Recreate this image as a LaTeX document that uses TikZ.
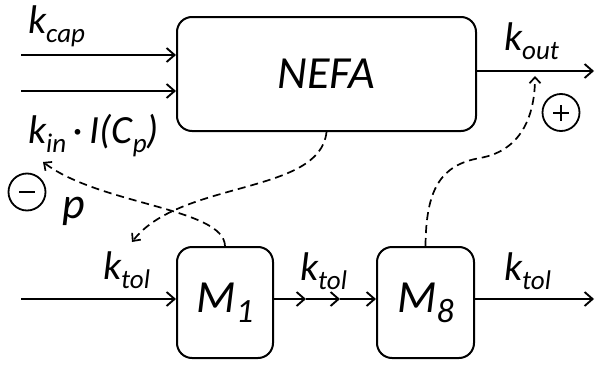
\documentclass[tikz,border=0pt]{standalone}
\usepackage{fontspec}
\setmainfont{Carlito}
\usetikzlibrary{arrows.meta}
\newcommand{\mylbl}[2]{{\fontsize{40}{40}\selectfont #1}\raisebox{-9pt}{\fontsize{27}{27}\selectfont #2}}
\newcommand{\mybig}[1]{{\fontsize{40}{40}\selectfont #1}}
\begin{document}
\begin{tikzpicture}[x=1pt,y=-1pt, line width=2pt,
  box/.style={draw, rounded corners=15pt, line width=2pt, font=\itshape, inner sep=0pt},
  lbl/.style={anchor=base west, inner sep=0pt, font=\itshape},
  arr/.style={line width=1.9pt, -{Straight Barb[length=8pt,width=14pt]}},
  dasharr/.style={dash pattern=on 8pt off 5pt, line width=1.7pt, -{Straight Barb[length=6pt,width=11pt]}},
  sign/.style={draw, circle, minimum size=37pt, inner sep=0pt, line width=1.8pt}]
\useasboundingbox (0,0) rectangle (595,367);
% boxes
\node[box, minimum width=299pt, minimum height=114pt] (nefa) at (326.5,74) {\fontsize{46}{46}\selectfont NEFA};
\node[box, minimum width=96pt, minimum height=111pt] (m1) at (225,302.5) {{\fontsize{46}{46}\selectfont M}\raisebox{-10pt}{\fontsize{34}{34}\selectfont 1}};
\node[box, minimum width=97pt, minimum height=111pt] (m8) at (425.5,302.5) {{\fontsize{46}{46}\selectfont M}\raisebox{-10pt}{\fontsize{34}{34}\selectfont 8}};
% coordinates
\coordinate (in1) at (21,55);
\coordinate (in2) at (21,91);
\coordinate (in3) at (21,299);
\coordinate (out1) at (594,71);
\coordinate (out3) at (594,299);
\coordinate (mid1) at (306,299);
\coordinate (mid2) at (340,299);
\coordinate (tktol) at (132,242);
\coordinate (tkin) at (43,162);
\coordinate (tkout) at (535,76);
\coordinate (via) at (480,158);
% solid arrows
\draw[arr] (in1) -- (in1 -| nefa.west);
\draw[arr] (in2) -- (in2 -| nefa.west);
\draw[arr] (out1 -| nefa.east) -- (out1);
\draw[arr] (in3) -- (in3 -| m1.west);
\draw[arr] (in3 -| m1.east) -- (mid1);
\draw[arr] (mid1) -- (mid2);
\draw[arr] (mid2) -- (in3 -| m8.west);
\draw[arr] (in3 -| m8.east) -- (out3);
% dashed arrows
\draw[dasharr] (nefa.south) .. controls (320,195) and (180,180) .. (tktol);
\draw[dasharr] (m1.north) .. controls (224,208) and (100,205) .. (tkin);
\draw[dasharr] (m8.north) .. controls (426,190) and (440,165) .. (via) .. controls (525,150) and (535,110) .. (tkout);
% labels
\node[lbl] (kcap) at (27,33) {\mylbl{k}{cap}};
\node[lbl] (kin) at (27,143) {\mylbl{k}{in}\mybig{\,·\,I(C}\mylbl{}{p}\mybig{)}};
\node[lbl] (kout) at (503,50) {\mylbl{k}{out}};
\node[lbl] (ktol1) at (102,279) {\mylbl{k}{tol}};
\node[lbl] (ktol2) at (299,280) {\mylbl{k}{tol}};
\node[lbl] (ktol3) at (503,280) {\mylbl{k}{tol}};
\node[lbl] (p) at (61,218) {\fontsize{44}{44}\selectfont p};
% signs
\node[sign, path picture={\draw[line width=2pt] (path picture bounding box.center) ++(-8pt,0) -- ++(16pt,0);}] (minus) at (27,192) {};
\node[sign, path picture={\draw[line width=2pt] (path picture bounding box.center) ++(-8pt,0) -- ++(16pt,0); \draw[line width=2pt] (path picture bounding box.center) ++(0,-8pt) -- ++(0,16pt);}] (plus) at (561,112.5) {};
\end{tikzpicture}
\end{document}
